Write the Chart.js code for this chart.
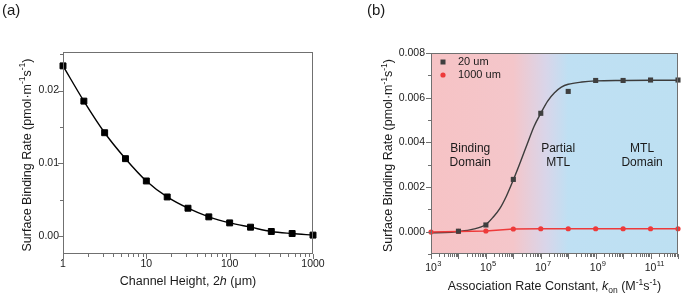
<!DOCTYPE html>
<html>
<head>
<meta charset="utf-8">
<script src="https://cdn.jsdelivr.net/npm/chart.js@4.4.1/dist/chart.umd.min.js"></script>
<style>
    html, body { margin: 0; padding: 0; background: #fff; }
    .panel { position: absolute; top: 0; width: 341px; height: 296px; }
    #panel-a { left: 0; }
    #panel-b { left: 341px; }
</style>
</head>
<body>
<div class="panel" id="panel-a"><canvas id="chart-a"></canvas></div>
<div class="panel" id="panel-b"><canvas id="chart-b"></canvas></div>
<script>
// (a) surface binding rate vs channel height
const heightUm = [1, 1.78, 3.16, 5.62, 10, 17.8, 31.6, 56.2, 100, 178, 316, 562, 1000];
const rateByHeight = [0.02339, 0.01854, 0.01419, 0.01062, 0.00755, 0.00535, 0.0038, 0.00261, 0.00178, 0.00119, 0.0006, 0.00032, 0.0001];
const heightTickValues = [1, 10, 100, 1000];
const rateTicksA = [0, 0.01, 0.02];

// (b) surface binding rate vs association rate constant
const kon = [1e3, 1e4, 1e5, 1e6, 1e7, 1e8, 1e9, 1e10, 1e11, 1e12];
const rate20um = [null, 0.00002, 0.0003, 0.00234, 0.0053, 0.00628, 0.00677, 0.00677, 0.00679, 0.00679];
const rate1000um = [-0.00002, 0.00001, 0.00003, 0.00012, 0.00013, 0.00013, 0.00013, 0.00013, 0.00013, 0.00013];
// fitted curve for 20 um
const fitKon = [1e3, 3.16e3, 1e4, 3.16e4, 1e5, 1.78e5, 3.16e5, 5.62e5, 1e6, 1.78e6, 3.16e6, 5.62e6, 1e7, 1.78e7, 3.16e7, 5.62e7, 1e8, 3.16e8, 1e9, 1e10, 1e11, 1e12];
const fit20um = [-0.00005, -0.00004, 0.00001, 0.0001, 0.00032, 0.00063, 0.00102, 0.0016, 0.00232, 0.0031, 0.0039, 0.0047, 0.0053, 0.00585, 0.00622, 0.00647, 0.0066, 0.0067, 0.00675, 0.00677, 0.00678, 0.00678];
const konTickValues = [1e3, 1e5, 1e7, 1e9, 1e11];
const rateTicksB = [0, 0.002, 0.004, 0.006, 0.008];
const seriesNames = ['20 um', '1000 um'];
const regionNames = [['Binding', 'Domain'], ['Partial', 'MTL'], ['MTL', 'Domain']];

const FONT = '"Liberation Sans", Arial, Helvetica, sans-serif';
const INK = '#1a1a1a';
const GRAY = '#3f3f3f';
const RED = '#ee3a3a';

function near(a, b) { return Math.abs(a - b) < 1e-7; }

// 2 = major tick, 1 = minor tick, 0 = none
function logKind(v) {
    const e = Math.log10(v);
    if (near(e, Math.round(e))) return 2;
    const m = v / Math.pow(10, Math.floor(e));
    return near(m, Math.round(m)) ? 1 : 0;
}
function stepKind(major, minor) {
    return v => near(v / major, Math.round(v / major)) ? 2 : (near(v / minor, Math.round(v / minor)) ? 1 : 0);
}

// text with italic / superscript / subscript parts
function drawRich(ctx, parts, size, cx, cy, vertical) {
    const fontOf = k => (k === 'i' ? 'italic ' : '') + (k === '^' || k === '_' ? size * 0.68 : size) + 'px ' + FONT;
    const widths = parts.map(([t, k]) => { ctx.font = fontOf(k); return ctx.measureText(t).width; });
    const total = widths.reduce((s, w) => s + w, 0);
    ctx.save();
    ctx.translate(cx, cy);
    if (vertical) ctx.rotate(-Math.PI / 2);
    ctx.fillStyle = INK;
    ctx.textBaseline = 'middle';
    ctx.textAlign = 'left';
    let x = -total / 2;
    parts.forEach(([t, k], i) => {
        ctx.font = fontOf(k);
        const dy = k === '^' ? -size * 0.38 : (k === '_' ? size * 0.3 : 0);
        ctx.fillText(t, x, dy);
        x += widths[i];
    });
    ctx.restore();
}

// frame, outward ticks, panel letter and axis titles
function axesPlugin(cfg) {
    return {
        id: 'axes-' + cfg.panel,
        beforeDatasetsDraw(chart) {
            if (cfg.background) cfg.background(chart);
        },
        afterDatasetsDraw(chart) {
            const { ctx, chartArea: a, scales: { x, y } } = chart;
            ctx.save();
            ctx.strokeStyle = '#707070';
            ctx.lineWidth = 1;
            ctx.strokeRect(a.left + 0.5, a.top + 0.5, a.right - a.left - 1, a.bottom - a.top - 1);
            ctx.beginPath();
            x.ticks.forEach(t => {
                const k = cfg.xKind(t.value);
                if (!k) return;
                const px = Math.round(x.getPixelForValue(t.value)) + 0.5;
                ctx.moveTo(px, a.bottom);
                ctx.lineTo(px, a.bottom + (k === 2 ? 5 : 3));
            });
            y.ticks.forEach(t => {
                const k = cfg.yKind(t.value);
                if (!k) return;
                const py = Math.round(y.getPixelForValue(t.value)) + 0.5;
                ctx.moveTo(a.left, py);
                ctx.lineTo(a.left - (k === 2 ? 5 : 3), py);
            });
            ctx.stroke();
            ctx.restore();
        },
        afterDraw(chart) {
            const { ctx, chartArea: a } = chart;
            ctx.save();
            ctx.font = '15px ' + FONT;
            ctx.fillStyle = INK;
            ctx.textBaseline = 'middle';
            ctx.fillText(cfg.panel, cfg.panelX, 11);
            ctx.restore();
            drawRich(ctx, cfg.xTitle, 12.5, (a.left + a.right) / 2, a.bottom + cfg.xTitleDy, false);
            drawRich(ctx, cfg.yTitle, 12.5, cfg.yTitleX, (a.top + a.bottom) / 2 + 2, true);
            if (cfg.extra) cfg.extra(chart);
        }
    };
}

const yTitle = [['Surface Binding Rate (pmol·m', ''], ['-1', '^'], ['s', ''], ['-1', '^'], [')', '']];

function hiddenGrid() {
    return { display: true, drawOnChartArea: false, drawTicks: true, tickLength: 4, color: 'rgba(0,0,0,0)' };
}

// Panel (a)
new Chart(document.getElementById('chart-a'), {
    type: 'line',
    data: {
        datasets: [{
            data: heightUm.map((h, i) => ({ x: h, y: rateByHeight[i] })),
            borderColor: '#000',
            borderWidth: 1.4,
            pointStyle: 'rect',
            pointRadius: 4.2,
            pointBackgroundColor: '#000',
            pointBorderColor: '#000',
            pointBorderWidth: 1,
            cubicInterpolationMode: 'monotone',
            clip: false
        }]
    },
    options: {
        responsive: true,
        maintainAspectRatio: false,
        animation: false,
        layout: { padding: { top: 52, right: 28, left: 0, bottom: 0 } },
        plugins: { legend: { display: false }, tooltip: { enabled: false } },
        scales: {
            x: {
                type: 'logarithmic',
                min: 1,
                max: 1000,
                afterFit: s => { s.height = 42; },
                grid: hiddenGrid(),
                border: { display: false },
                ticks: {
                    autoSkip: false,
                    maxRotation: 0,
                    padding: 0,
                    color: INK,
                    font: { size: 10.5, family: FONT },
                    callback: v => heightTickValues.includes(v) ? String(v) : ''
                }
            },
            y: {
                min: -0.0025,
                max: 0.0253,
                afterFit: s => { s.width = 63; },
                grid: hiddenGrid(),
                border: { display: false },
                ticks: {
                    stepSize: 0.005,
                    includeBounds: false,
                    padding: 0,
                    color: INK,
                    font: { size: 10.5, family: FONT },
                    callback: v => rateTicksA.some(t => near(t, v)) ? v.toFixed(2) : ''
                }
            }
        }
    },
    plugins: [axesPlugin({
        panel: '(a)',
        panelX: 2,
        xKind: logKind,
        yKind: stepKind(0.01, 0.005),
        xTitle: [['Channel Height, 2', ''], ['h', 'i'], [' (μm)', '']],
        xTitleDy: 28,
        yTitle: yTitle,
        yTitleX: 27.5
    })]
});

// Panel (b)
new Chart(document.getElementById('chart-b'), {
    type: 'line',
    data: {
        datasets: [
            {
                label: seriesNames[0],
                data: kon.map((k, i) => ({ x: k, y: rate20um[i] })),
                showLine: false,
                pointStyle: 'rect',
                pointRadius: 3.6,
                pointBackgroundColor: GRAY,
                pointBorderColor: GRAY,
                pointBorderWidth: 0,
                clip: false
            },
            {
                label: seriesNames[1],
                data: kon.map((k, i) => ({ x: k, y: rate1000um[i] })),
                borderColor: RED,
                borderWidth: 1.5,
                pointStyle: 'circle',
                pointRadius: 2.6,
                pointBackgroundColor: RED,
                pointBorderColor: RED,
                pointBorderWidth: 0,
                clip: false
            },
            {
                label: 'fit',
                data: fitKon.map((k, i) => ({ x: k, y: fit20um[i] })),
                borderColor: '#3c3c3c',
                borderWidth: 1.4,
                pointRadius: 0,
                cubicInterpolationMode: 'monotone'
            }
        ]
    },
    options: {
        responsive: true,
        maintainAspectRatio: false,
        animation: false,
        layout: { padding: { top: 53, right: 3, left: 0, bottom: 0 } },
        plugins: { legend: { display: false }, tooltip: { enabled: false } },
        scales: {
            x: {
                type: 'logarithmic',
                min: 1e3,
                max: 1e12,
                afterFit: s => { s.height = 42; },
                grid: hiddenGrid(),
                border: { display: false },
                ticks: { display: false, autoSkip: false }
            },
            y: {
                min: -0.001,
                max: 0.008,
                afterFit: s => { s.width = 90; },
                grid: hiddenGrid(),
                border: { display: false },
                ticks: {
                    stepSize: 0.001,
                    includeBounds: false,
                    padding: 2,
                    color: INK,
                    font: { size: 10.5, family: FONT },
                    callback: v => rateTicksB.some(t => near(t, v)) ? v.toFixed(3) : ''
                }
            }
        }
    },
    plugins: [axesPlugin({
        panel: '(b)',
        panelX: 26,
        xKind: logKind,
        yKind: stepKind(0.002, 0.001),
        xTitle: [['Association Rate Constant, ', ''], ['k', 'i'], ['on', '_'], [' (M', ''], ['-1', '^'], ['s', ''], ['-1', '^'], [')', '']],
        xTitleDy: 33,
        yTitle: yTitle,
        yTitleX: 48,
        background(chart) {
            const { ctx, chartArea: a, scales: { x } } = chart;
            const f = v => (x.getPixelForValue(v) - a.left) / (a.right - a.left);
            const g = ctx.createLinearGradient(a.left, 0, a.right, 0);
            g.addColorStop(0, '#f6c3c5');
            g.addColorStop(f(1e6), '#f4c6ca');
            g.addColorStop(f(1.5e7), '#d9d5e9');
            g.addColorStop(f(1e8), '#bfe0f3');
            g.addColorStop(1, '#bde0f2');
            ctx.save();
            ctx.fillStyle = g;
            ctx.fillRect(a.left, a.top, a.right - a.left, a.bottom - a.top);
            ctx.restore();
        },
        extra(chart) {
            const { ctx, chartArea: a, scales: { x, y } } = chart;
            // x tick labels 10^n
            konTickValues.forEach(v => {
                const px = x.getPixelForValue(v);
                const ex = String(Math.round(Math.log10(v)));
                ctx.save();
                ctx.fillStyle = INK;
                ctx.textBaseline = 'middle';
                ctx.font = '10.5px ' + FONT;
                const w = ctx.measureText('10').width;
                ctx.textAlign = 'center';
                ctx.fillText('10', px, a.bottom + 14);
                ctx.textAlign = 'left';
                ctx.font = '7.5px ' + FONT;
                ctx.fillText(ex, px + w / 2 + 0.3, a.bottom + 9.5);
                ctx.restore();
            });
            // legend
            const lx = a.left + 12, ly = a.top + 9;
            ctx.save();
            ctx.fillStyle = GRAY;
            ctx.fillRect(lx - 2.5, ly - 2.5, 5, 5);
            ctx.fillStyle = RED;
            ctx.beginPath();
            ctx.arc(lx, ly + 13, 2.6, 0, Math.PI * 2);
            ctx.fill();
            ctx.fillStyle = INK;
            ctx.font = '11px ' + FONT;
            ctx.textBaseline = 'middle';
            ctx.fillText(seriesNames[0], lx + 15, ly);
            ctx.fillText(seriesNames[1], lx + 15, ly + 13);
            // region names
            const labelX = [2.7e4, 4.3e7, 4.9e10];
            const cy = y.getPixelForValue(0.0034);
            ctx.font = '12px ' + FONT;
            ctx.textAlign = 'center';
            regionNames.forEach((lines, i) => {
                const px = x.getPixelForValue(labelX[i]);
                ctx.fillText(lines[0], px, cy - 7);
                ctx.fillText(lines[1], px, cy + 7);
            });
            ctx.restore();
        }
    })]
});
</script>
</body>
</html>
